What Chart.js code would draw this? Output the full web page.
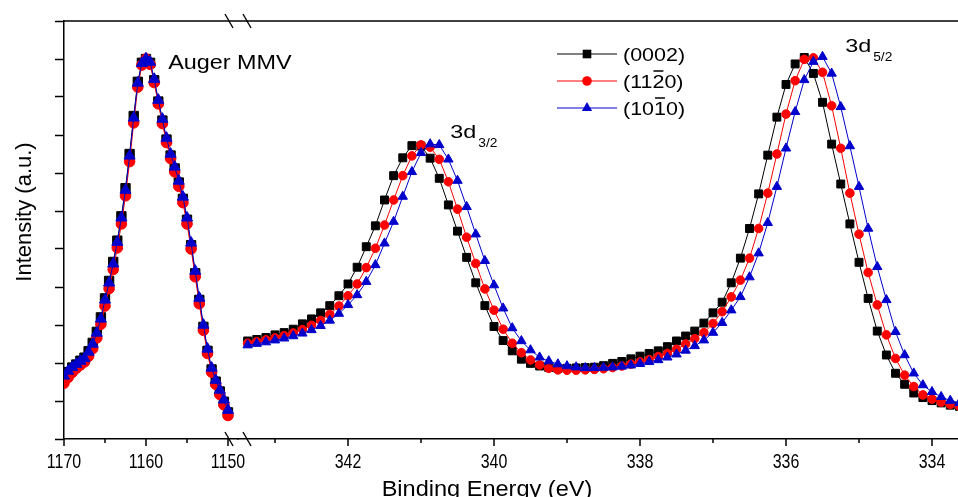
<!DOCTYPE html>
<html>
<head>
<meta charset="utf-8">
<title>XPS spectra: Auger MMV and 3d region</title>
<script src="https://cdn.jsdelivr.net/npm/chart.js@4.4.1/dist/chart.umd.min.js"></script>
<style>
  html, body { margin: 0; padding: 0; background: #fff; overflow: hidden; }
  canvas { display: block; }
</style>
</head>
<body>
<canvas id="xpsChart" width="958" height="497"></canvas>
<script>
// Binding energy grids (eV): Auger scan every 0.5 eV, 3d scan every 0.125 eV
function energyGrid(start, step, count) {
    const out = [];
    for (let i = 0; i < count; i++) out.push(+(start - i * step).toFixed(3));
    return out;
}
const augerEnergy = energyGrid(1170, 0.5, 41);
const d3Energy = energyGrid(343.375, 0.125, 79);

// Auger MMV intensities (a.u.)
const auger0002 = [1.62, 1.76, 1.88, 1.96, 2.06, 2.14, 2.31, 2.53, 2.82, 3.20,
    3.70, 4.16, 4.66, 5.22, 5.86, 6.60, 7.50, 8.50, 9.40, 9.90,
    10.00, 9.90, 9.44, 8.88, 8.38, 7.88, 7.46, 7.12, 6.75, 6.32,
    5.77, 5.10, 4.36, 3.66, 2.95, 2.32, 1.83, 1.51, 1.25, 0.98, 0.70];
const auger1120 = [1.47, 1.62, 1.75, 1.86, 1.95, 2.03, 2.18, 2.38, 2.66, 3.02,
    3.50, 3.96, 4.46, 5.03, 5.66, 6.40, 7.30, 8.32, 9.26, 9.84,
    10.00, 9.86, 9.38, 8.82, 8.30, 7.80, 7.38, 7.03, 6.65, 6.22,
    5.66, 5.00, 4.27, 3.56, 2.86, 2.25, 1.76, 1.44, 1.17, 0.90, 0.62];
const auger1010 = [1.66, 1.79, 1.89, 1.97, 2.05, 2.12, 2.29, 2.50, 2.79, 3.16,
    3.66, 4.11, 4.61, 5.18, 5.82, 6.55, 7.45, 8.45, 9.37, 9.89,
    10.01, 9.92, 9.47, 8.92, 8.42, 7.92, 7.50, 7.16, 6.79, 6.37,
    5.82, 5.16, 4.42, 3.71, 3.00, 2.37, 1.87, 1.55, 1.29, 1.03, 0.76];

// 3d doublet intensities (a.u.)
const d3_0002 = [2.58, 2.62, 2.67, 2.74, 2.80, 2.89, 3.03, 3.16, 3.32, 3.51,
    3.77, 4.08, 4.52, 5.06, 5.61, 6.29, 6.93, 7.40, 7.72, 7.71,
    7.39, 6.86, 6.16, 5.47, 4.78, 4.11, 3.51, 2.96, 2.59, 2.32,
    2.10, 1.99, 1.92, 1.88, 1.86, 1.86, 1.87, 1.88, 1.89, 1.93,
    1.99, 2.04, 2.11, 2.18, 2.25, 2.32, 2.43, 2.58, 2.71, 2.84,
    3.05, 3.32, 3.60, 4.11, 4.76, 5.54, 6.45, 7.47, 8.47, 9.33,
    9.87, 10.04, 9.62, 8.86, 7.76, 6.71, 5.66, 4.65, 3.70, 2.84,
    2.21, 1.73, 1.44, 1.21, 1.09, 1.01, 0.95, 0.89, 0.86];
const d3_1120 = [2.52, 2.56, 2.61, 2.66, 2.72, 2.79, 2.88, 2.99, 3.12, 3.28,
    3.50, 3.77, 4.08, 4.51, 5.02, 5.63, 6.29, 6.93, 7.45, 7.74,
    7.68, 7.36, 6.77, 6.05, 5.31, 4.62, 3.95, 3.39, 2.89, 2.52,
    2.27, 2.08, 1.95, 1.86, 1.82, 1.81, 1.81, 1.82, 1.83, 1.85,
    1.88, 1.92, 1.97, 2.03, 2.09, 2.17, 2.25, 2.36, 2.50, 2.64,
    2.80, 3.04, 3.35, 3.74, 4.18, 4.76, 5.54, 6.47, 7.50, 8.55,
    9.43, 9.99, 10.03, 9.65, 8.77, 7.65, 6.47, 5.39, 4.38, 3.53,
    2.74, 2.12, 1.68, 1.38, 1.16, 1.05, 0.97, 0.91, 0.86];
const d3_1010 = [2.47, 2.51, 2.55, 2.60, 2.65, 2.71, 2.78, 2.87, 2.98, 3.12,
    3.30, 3.53, 3.79, 4.14, 4.58, 5.15, 5.72, 6.38, 7.03, 7.53,
    7.76, 7.74, 7.36, 6.80, 6.11, 5.39, 4.69, 4.05, 3.44, 2.92,
    2.58, 2.34, 2.15, 2.05, 1.97, 1.92, 1.89, 1.87, 1.87, 1.88,
    1.89, 1.91, 1.94, 1.98, 2.03, 2.08, 2.15, 2.23, 2.33, 2.45,
    2.60, 2.80, 3.06, 3.39, 3.74, 4.26, 4.89, 5.69, 6.64, 7.65,
    8.61, 9.45, 9.93, 10.06, 9.62, 8.74, 7.71, 6.64, 5.54, 4.53,
    3.66, 2.82, 2.21, 1.73, 1.42, 1.24, 1.11, 1.01, 0.95];

// Axis ticks (eV)
const augerMajorTicks = [1170, 1160, 1150];
const augerMinorTicks = [1165, 1155];
const d3MajorTicks = [342, 340, 338, 336, 334];
const d3MinorTicks = [343, 341, 339, 337, 335];

// Legend labels; overbar sits on the character at index legendBars[i]
const legendLabels = ['(0002)', '(1120)', '(1010)'];
const legendBars = [-1, 3, 3];

const series = [
    { color: '#000000', style: 'rect', radius: 5.6, auger: auger0002, d3: d3_0002, order: 3 },
    { color: '#ff0000', style: 'circle', radius: 4.3, auger: auger1120, d3: d3_1120, order: 2 },
    { color: '#0000cc', style: 'triangle', radius: 5.4, auger: auger1010, d3: d3_1010, order: 1 }
];

function toPoints(xs, ys) {
    return xs.map((x, i) => ({ x: x, y: ys[i] }));
}

const datasets = [];
series.forEach((s, i) => {
    const common = {
        label: legendLabels[i],
        borderColor: s.color,
        backgroundColor: s.color,
        borderWidth: 1,
        pointStyle: s.style,
        pointBorderWidth: 1,
        pointBackgroundColor: s.color,
        pointBorderColor: s.color,
        tension: 0,
        order: s.order,
        yAxisID: 'y'
    };
    // Auger points sit close together, so the markers are drawn a little larger
    datasets.push(Object.assign({}, common, { data: toPoints(augerEnergy, s.auger), xAxisID: 'xAuger', pointRadius: s.radius + 1 }));
    datasets.push(Object.assign({}, common, { data: toPoints(d3Energy, s.d3), xAxisID: 'x3d', pointRadius: s.radius }));
});

const FONT = '"Liberation Sans", Arial, sans-serif';

// text with a horizontal stretch factor
function drawText(ctx, str, x, y, size, sx, align) {
    ctx.save();
    ctx.translate(x, y);
    ctx.scale(sx, 1);
    ctx.font = size + 'px ' + FONT;
    ctx.textAlign = align || 'left';
    ctx.textBaseline = 'alphabetic';
    ctx.fillText(str, 0, 0);
    ctx.restore();
}

function drawMarker(ctx, style, x, y, r) {
    ctx.beginPath();
    if (style === 'rect') {
        const h = r * Math.SQRT1_2;
        ctx.rect(x - h, y - h, 2 * h, 2 * h);
    } else if (style === 'circle') {
        ctx.arc(x, y, r, 0, Math.PI * 2);
    } else {
        ctx.moveTo(x, y - r);
        ctx.lineTo(x + r * 0.866, y + r * 0.5);
        ctx.lineTo(x - r * 0.866, y + r * 0.5);
        ctx.closePath();
    }
    ctx.fill();
}

const decorPlugin = {
    id: 'decor',
    afterDraw(chart) {
        const { ctx, chartArea: area, scales } = chart;
        const xa = scales.xAuger, xd = scales.x3d, y = scales.y;
        ctx.save();
        ctx.strokeStyle = '#000';
        ctx.fillStyle = '#000';
        ctx.lineWidth = 1.5;

        // top frame line
        ctx.beginPath();
        ctx.moveTo(area.left, area.top);
        ctx.lineTo(area.right, area.top);
        ctx.stroke();

        // x tick marks and labels on both axis segments
        const tickSets = [
            [xa, augerMajorTicks, augerMinorTicks],
            [xd, d3MajorTicks, d3MinorTicks]
        ];
        tickSets.forEach(([scale, major, minor]) => {
            ctx.beginPath();
            major.forEach(v => {
                const px = scale.getPixelForValue(v);
                ctx.moveTo(px, area.bottom);
                ctx.lineTo(px, area.bottom + 7);
            });
            minor.forEach(v => {
                const px = scale.getPixelForValue(v);
                ctx.moveTo(px, area.bottom);
                ctx.lineTo(px, area.bottom + 4);
            });
            ctx.stroke();
            major.forEach(v => {
                drawText(ctx, String(v), scale.getPixelForValue(v), area.bottom + 29, 21, 0.76, 'center');
            });
        });

        // axis break marks
        const bx = xa.right;
        ctx.lineWidth = 1.4;
        [area.top, area.bottom].forEach(yy => {
            [bx - 9, bx + 9].forEach(cx => {
                ctx.beginPath();
                ctx.moveTo(cx - 4, yy - 7);
                ctx.lineTo(cx + 4, yy + 7);
                ctx.stroke();
            });
        });

        // axis titles
        drawText(ctx, 'Binding Energy (eV)', 487, 496, 22, 1.07, 'center');
        ctx.save();
        ctx.translate(31, 212);
        ctx.rotate(-Math.PI / 2);
        drawText(ctx, 'Intensity (a.u.)', 0, 0, 22, 1, 'center');
        ctx.restore();

        // peak labels
        drawText(ctx, 'Auger MMV', xa.getPixelForValue(1157.3), y.getPixelForValue(9.75), 19.5, 1.2);
        const p32 = xd.getPixelForValue(340.6), q32 = y.getPixelForValue(7.92);
        drawText(ctx, '3d', p32, q32, 18, 1.3);
        drawText(ctx, '3/2', p32 + 28, q32 + 9, 12, 1.15);
        const p52 = xd.getPixelForValue(335.19), q52 = y.getPixelForValue(10.18);
        drawText(ctx, '3d', p52, q52, 18, 1.3);
        drawText(ctx, '5/2', p52 + 28, q52 + 9, 12, 1.15);

        // legend
        const lx = 557, rowY = [54, 81, 108];
        series.forEach((s, i) => {
            const ry = rowY[i];
            ctx.strokeStyle = s.color;
            ctx.fillStyle = s.color;
            ctx.lineWidth = 1;
            ctx.beginPath();
            ctx.moveTo(lx, ry);
            ctx.lineTo(lx + 60, ry);
            ctx.stroke();
            drawMarker(ctx, s.style, lx + 30, ry, s.radius + 0.5);

            ctx.fillStyle = '#000';
            ctx.strokeStyle = '#000';
            const tx = lx + 66, ty = ry + 7, sx = 1.13, size = 19;
            const label = legendLabels[i];
            drawText(ctx, label, tx, ty, size, sx);
            if (legendBars[i] >= 0) {
                ctx.font = size + 'px ' + FONT;
                const x0 = tx + ctx.measureText(label.slice(0, legendBars[i])).width * sx;
                const w = ctx.measureText(label[legendBars[i]]).width * sx;
                ctx.lineWidth = 1.5;
                ctx.beginPath();
                ctx.moveTo(x0 + 1, ty - 17);
                ctx.lineTo(x0 + w - 1, ty - 17);
                ctx.stroke();
            }
        });
        ctx.restore();
    }
};

const axisBorder = { display: true, color: '#000', width: 1.5 };

// fixed box sizes so the plot area stays at 64..958 x 21..439
function fixHeight(s) {
    s.height = 58;
    s.paddingLeft = 0;
    s.paddingRight = 0;
}

new Chart(document.getElementById('xpsChart'), {
    type: 'line',
    data: { datasets: datasets },
    options: {
        responsive: false,
        devicePixelRatio: 1,
        animation: false,
        layout: { autoPadding: false, padding: { top: 21, right: 0, bottom: 0, left: 0 } },
        plugins: { legend: { display: false }, tooltip: { enabled: false } },
        scales: {
            xAuger: {
                type: 'linear',
                position: 'bottom',
                stack: 'energy',
                stackWeight: 174,
                reverse: true,
                min: 1148.78,
                max: 1170,
                afterBuildTicks: s => { s.ticks = augerMajorTicks.map(v => ({ value: v })); },
                afterFit: fixHeight,
                grid: { drawOnChartArea: false, drawTicks: false },
                border: axisBorder,
                ticks: { display: false }
            },
            x3d: {
                type: 'linear',
                position: 'bottom',
                stack: 'energy',
                stackWeight: 720,
                reverse: true,
                min: 333.644,
                max: 343.507,
                afterBuildTicks: s => { s.ticks = d3MajorTicks.map(v => ({ value: v })); },
                afterFit: fixHeight,
                grid: { drawOnChartArea: false, drawTicks: false },
                border: axisBorder,
                ticks: { display: false }
            },
            y: {
                type: 'linear',
                position: 'left',
                min: 0,
                max: 11,
                afterFit: s => { s.width = 64; s.paddingTop = 0; s.paddingBottom = 0; },
                grid: { drawOnChartArea: false, drawTicks: true, tickLength: 9, tickColor: '#000', tickWidth: 1.5 },
                border: axisBorder,
                ticks: { stepSize: 1, display: false }
            }
        }
    },
    plugins: [decorPlugin]
});
</script>
</body>
</html>
